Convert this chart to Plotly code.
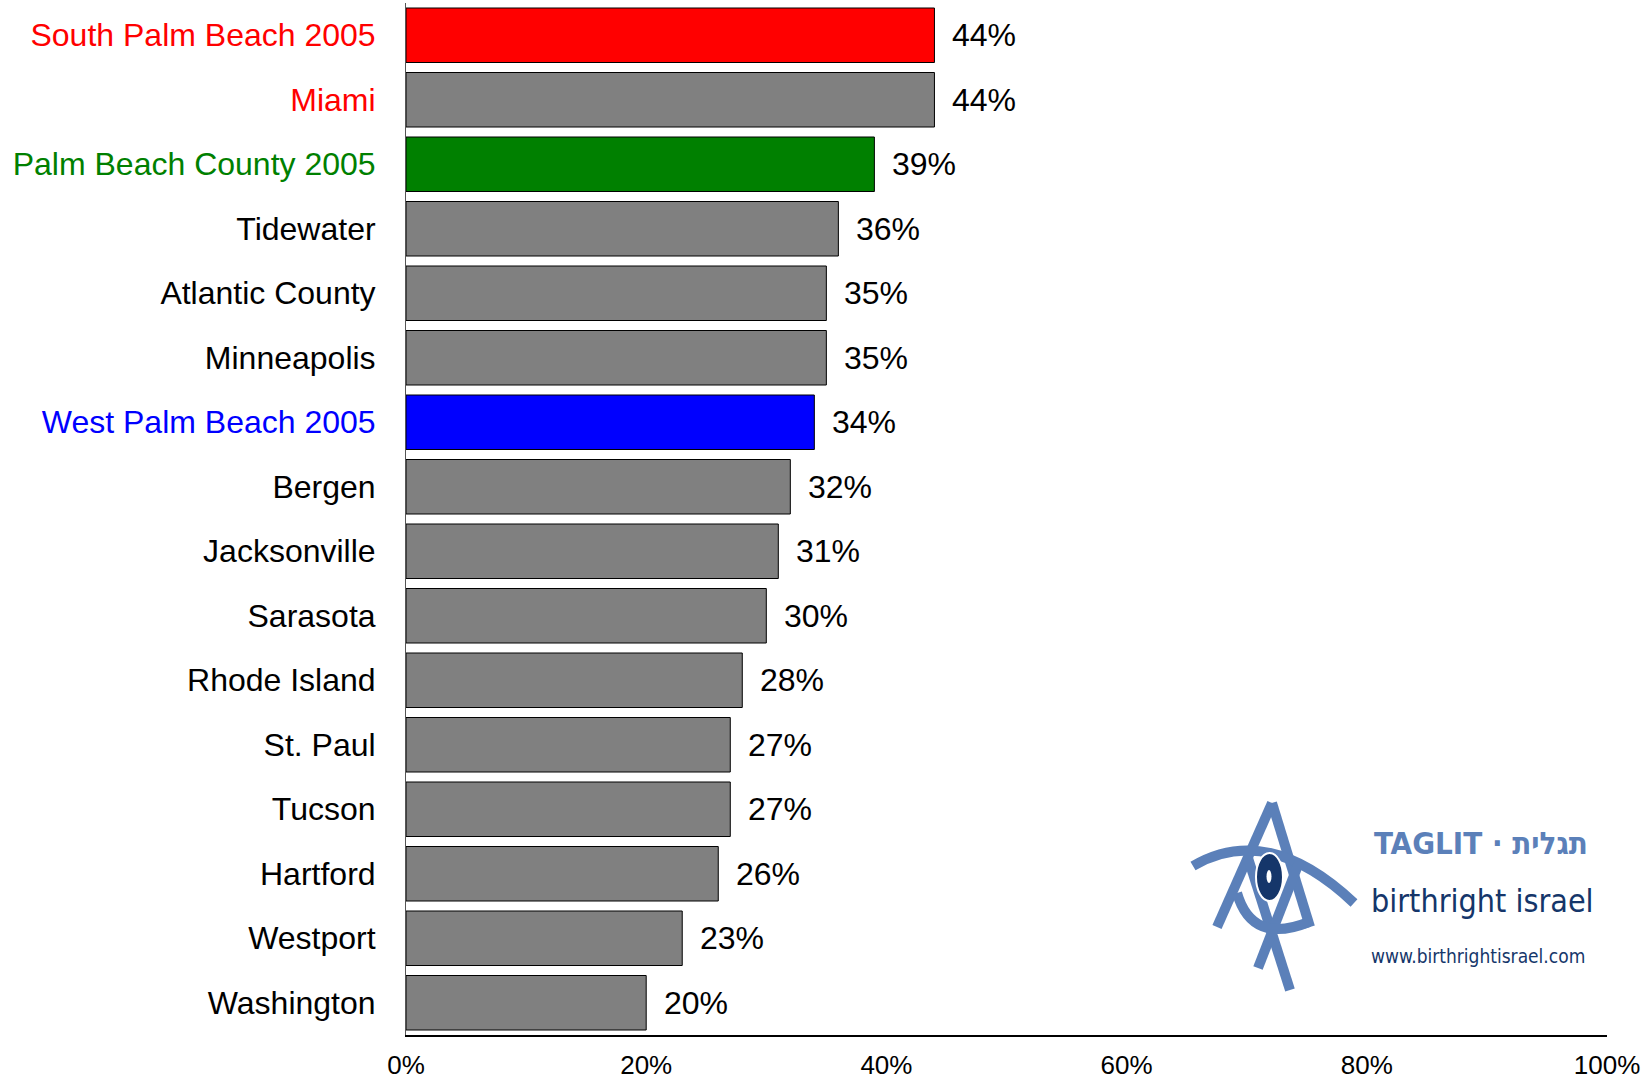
import plotly.graph_objects as go

cities = [
    "South Palm Beach 2005", "Miami", "Palm Beach County 2005", "Tidewater",
    "Atlantic County", "Minneapolis", "West Palm Beach 2005", "Bergen",
    "Jacksonville", "Sarasota", "Rhode Island", "St. Paul", "Tucson",
    "Hartford", "Westport", "Washington",
]
shares = [44, 44, 39, 36, 35, 35, 34, 32, 31, 30, 28, 27, 27, 26, 23, 20]
bar_colors = [
    "#ff0000", "#808080", "#008000", "#808080", "#808080", "#808080",
    "#0000ff", "#808080", "#808080", "#808080", "#808080", "#808080",
    "#808080", "#808080", "#808080", "#808080",
]
label_colors = [
    "#ff0000", "#ff0000", "#008000", "#000000", "#000000", "#000000",
    "#0000ff", "#000000", "#000000", "#000000", "#000000", "#000000",
    "#000000", "#000000", "#000000", "#000000",
]
x_ticks = [0, 20, 40, 60, 80, 100]
x_tick_text = ["0%", "20%", "40%", "60%", "80%", "100%"]

W, H = 1650, 1082
L, R, T, B = 406, 43, 3, 47
LOGO_LIGHT = "#5b80b9"
LOGO_DARK = "#15366a"


def px2paper(x, y):
    # pixel position on the page -> paper coordinates of the plot area
    return (x - L) / (W - L - R), (H - B - y) / (H - B - T)


def brush_path(points):
    # straight stroke for 2 points, quadratic curve for 3
    parts = []
    for i, (x, y) in enumerate(points):
        a, b = px2paper(x, y)
        if i == 0:
            parts.append(f"M {a:.5f} {b:.5f}")
        elif len(points) == 3 and i == 1:
            parts.append(f"Q {a:.5f} {b:.5f}")
        elif len(points) == 3:
            parts.append(f"{a:.5f} {b:.5f}")
        else:
            parts.append(f"L {a:.5f} {b:.5f}")
    return " ".join(parts)


fig = go.Figure(go.Bar(
    x=shares, y=cities, orientation="h",
    marker=dict(color=bar_colors, line=dict(color="#000000", width=1)),
    hoverinfo="x+y",
))

# value labels to the right of each bar
for c, v in zip(cities, shares):
    fig.add_annotation(
        x=v, y=c, text=f"{v}%", showarrow=False,
        xanchor="left", xshift=16,
        font=dict(family="Arial, Liberation Sans", size=32, color="#000000"),
    )

# logo: brush-stroke star with an eye
strokes = [
    [(1272, 803), (1217, 927)],
    [(1272, 803), (1310, 927)],
    [(1193, 866), (1268, 822), (1354, 903)],
    [(1248, 858), (1290, 990)],
    [(1300, 860), (1258, 968)],
    [(1237, 893), (1252, 945), (1309, 922)],
]
for pts in strokes:
    fig.add_shape(type="path", xref="paper", yref="paper",
                  path=brush_path(pts),
                  line=dict(color=LOGO_LIGHT, width=10))
ex0, ey0 = px2paper(1256, 853)
ex1, ey1 = px2paper(1283, 901)
fig.add_shape(type="circle", xref="paper", yref="paper",
              x0=ex0, y0=ey0, x1=ex1, y1=ey1,
              fillcolor=LOGO_DARK, line=dict(color="#ffffff", width=2))
qx0, qy0 = px2paper(1266.5, 870)
qx1, qy1 = px2paper(1271.5, 883)
fig.add_shape(type="circle", xref="paper", yref="paper",
              x0=qx0, y0=qy0, x1=qx1, y1=qy1,
              fillcolor="#ffffff", line=dict(width=0))

logo_texts = [
    ("<b>TAGLIT · תגלית</b>", 1372, 843, 31, LOGO_LIGHT),
    ("birthright israel", 1369, 901, 32, LOGO_DARK),
    ("www.birthrightisrael.com", 1369, 956, 19, LOGO_DARK),
]
for txt, x, y, size, col in logo_texts:
    ax, ay = px2paper(x, y)
    fig.add_annotation(
        x=ax, y=ay, xref="paper", yref="paper", text=txt, showarrow=False,
        xanchor="left", yanchor="middle",
        font=dict(family="DejaVu Sans Condensed, Liberation Sans", size=size, color=col),
    )

fig.update_layout(
    width=W, height=H,
    margin=dict(l=L, r=R, t=T, b=B),
    paper_bgcolor="#ffffff", plot_bgcolor="#ffffff",
    bargap=0.155, showlegend=False,
    font=dict(family="Arial, Liberation Sans", color="#000000"),
)
fig.update_xaxes(
    range=[0, 100], tickvals=x_ticks, ticktext=x_tick_text,
    showgrid=False, zeroline=False, automargin=False,
    showline=True, linecolor="#000000", linewidth=2,
    ticks="", ticklabelstandoff=6,
    tickfont=dict(family="Arial, Liberation Sans", size=26, color="#000000"),
)
fig.update_yaxes(
    autorange="reversed",
    tickvals=cities,
    ticktext=[f"<span style='color:{c}'>{n}</span>" for n, c in zip(cities, label_colors)],
    showgrid=False, zeroline=False, automargin=False,
    showline=True, linecolor="#555555", linewidth=1,
    ticks="", ticklabelstandoff=23,
    tickfont=dict(family="Arial, Liberation Sans", size=32),
)

fig.write_html("out.html", config={"displayModeBar": False},
               post_script="document.body.style.margin='0';")
